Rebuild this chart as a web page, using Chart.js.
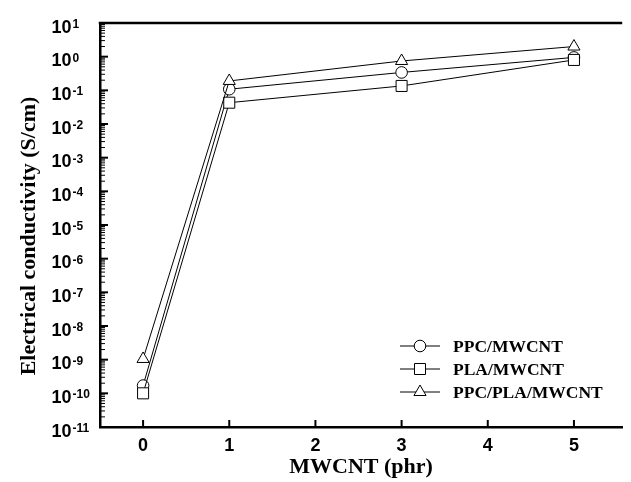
<!DOCTYPE html>
<html>
<head>
<meta charset="utf-8">
<script src="https://cdn.jsdelivr.net/npm/chart.js@4.4.1/dist/chart.umd.min.js"></script>
<style>
    html, body { margin: 0; padding: 0; background: #fff; }
    canvas { display: block; }
</style>
</head>
<body>
<canvas id="conductivityChart" width="631" height="482"></canvas>
<script>
// MWCNT loading (phr) and conductivity values (S/cm)
const mwcntLoading = [0, 1, 3, 5];
const ppcMwcnt = [1.7e-10, 0.108, 0.34, 0.95];
const plaMwcnt = [1.0e-10, 0.043, 0.135, 0.8];
const ppcPlaMwcnt = [1.05e-9, 0.19, 0.745, 2.0];
const seriesLabels = ['PPC/MWCNT', 'PLA/MWCNT', 'PPC/PLA/MWCNT'];
const xTickValues = [0, 1, 2, 3, 4, 5];
const yDecades = [-11, -10, -9, -8, -7, -6, -5, -4, -3, -2, -1, 0, 1];
const xTitle = 'MWCNT (phr)';
const yTitle = 'Electrical conductivity (S/cm)';

const sansFamily = '"Liberation Sans", Arial, sans-serif';
const serifFamily = '"Liberation Serif", "Times New Roman", serif';

// log ticks: every k * 10^n between the decades
const yTickValues = [];
yDecades.forEach(function(e) {
    for (let k = 1; k <= 9; k++) {
        if (e === yDecades[yDecades.length - 1] && k > 1) break;
        yTickValues.push(k * Math.pow(10, e));
    }
});

function drawMarker(ctx, style, r, x, y) {
    ctx.beginPath();
    if (style === 'circle') {
        ctx.arc(x, y, r, 0, Math.PI * 2);
    } else if (style === 'rect') {
        const s = r * Math.SQRT1_2;
        ctx.rect(x - s, y - s, 2 * s, 2 * s);
    } else {
        ctx.moveTo(x, y - r);
        ctx.lineTo(x + r * Math.sin(Math.PI / 3), y + r / 2);
        ctx.lineTo(x - r * Math.sin(Math.PI / 3), y + r / 2);
        ctx.closePath();
    }
    ctx.fillStyle = '#fff';
    ctx.fill();
    ctx.lineWidth = 1;
    ctx.strokeStyle = '#000';
    ctx.stroke();
}

// inward ticks, top frame line, superscript labels, titles and legend
const paperFrame = {
    id: 'paperFrame',
    afterDraw(chart) {
        const ctx = chart.ctx;
        const area = chart.chartArea;
        const xScale = chart.scales.x;
        const yScale = chart.scales.y;
        ctx.save();
        ctx.strokeStyle = '#000';
        ctx.fillStyle = '#000';

        ctx.lineWidth = 2.5;
        ctx.beginPath();
        ctx.moveTo(area.left - 1.25, area.top);
        ctx.lineTo(area.right, area.top);
        ctx.stroke();

        yScale.ticks.forEach(function(t) {
            const major = Math.abs(Math.log10(t.value) - Math.round(Math.log10(t.value))) < 1e-6;
            const y = yScale.getPixelForValue(t.value);
            ctx.lineWidth = major ? 2 : 1;
            ctx.beginPath();
            ctx.moveTo(area.left, y);
            ctx.lineTo(area.left + (major ? 8 : 5), y);
            ctx.stroke();
        });

        xScale.ticks.forEach(function(t) {
            const x = xScale.getPixelForValue(t.value);
            ctx.lineWidth = 2;
            ctx.beginPath();
            ctx.moveTo(x, area.bottom);
            ctx.lineTo(x, area.bottom - 7);
            ctx.stroke();
        });

        // y labels as 10 with a raised exponent
        ctx.textAlign = 'left';
        ctx.textBaseline = 'alphabetic';
        yDecades.forEach(function(e) {
            const y = yScale.getPixelForValue(Math.pow(10, e));
            ctx.font = 'bold 18px ' + sansFamily;
            ctx.fillText('10', 51.5, y + 9.5);
            const w = ctx.measureText('10').width;
            ctx.font = 'bold 12px ' + sansFamily;
            ctx.fillText(String(e), 51.5 + w + 1, y + 5);
        });

        // axis titles
        ctx.font = 'bold 22px ' + serifFamily;
        ctx.textAlign = 'center';
        ctx.fillText(xTitle, (area.left + area.right) / 2, 473);
        ctx.save();
        ctx.translate(34.5, 236);
        ctx.rotate(-Math.PI / 2);
        ctx.fillText(yTitle, 0, 0);
        ctx.restore();

        // legend in the lower right of the plot
        const rows = [346, 369, 392];
        chart.data.datasets.forEach(function(ds, i) {
            const y = rows[i];
            ctx.lineWidth = 1;
            ctx.strokeStyle = '#000';
            ctx.beginPath();
            ctx.moveTo(400, y);
            ctx.lineTo(440, y);
            ctx.stroke();
            drawMarker(ctx, ds.pointStyle, ds.pointRadius, 420, y);
            ctx.fillStyle = '#000';
            ctx.font = 'bold 17.5px ' + serifFamily;
            ctx.textAlign = 'left';
            ctx.fillText(ds.label, 453, y + 5.8);
        });
        ctx.restore();
    }
};

function makeSeries(label, values, style, radius, order) {
    return {
        label: label,
        data: mwcntLoading.map(function(x, i) { return { x: x, y: values[i] }; }),
        borderColor: '#000',
        borderWidth: 1,
        backgroundColor: '#fff',
        pointStyle: style,
        pointRadius: radius,
        pointHoverRadius: radius,
        pointBackgroundColor: '#fff',
        pointBorderColor: '#000',
        pointBorderWidth: 1,
        tension: 0,
        order: order
    };
}

const chart = new Chart(document.getElementById('conductivityChart').getContext('2d'), {
    type: 'line',
    data: {
        datasets: [
            makeSeries(seriesLabels[0], ppcMwcnt, 'circle', 5.8, 2),
            makeSeries(seriesLabels[1], plaMwcnt, 'rect', 7.8, 1),
            makeSeries(seriesLabels[2], ppcPlaMwcnt, 'triangle', 7, 0)
        ]
    },
    options: {
        responsive: false,
        animation: false,
        devicePixelRatio: 1,
        layout: { padding: { top: 23, right: 0, bottom: 0, left: 0 } },
        plugins: {
            legend: { display: false },
            tooltip: { enabled: false }
        },
        scales: {
            x: {
                type: 'linear',
                min: -0.5,
                max: 5.56,
                grid: { display: false, drawTicks: false },
                border: { display: true, color: '#000', width: 2.5 },
                ticks: {
                    color: '#000',
                    font: { family: sansFamily, size: 18, weight: 'bold' },
                    padding: 8
                },
                afterBuildTicks: function(scale) {
                    scale.ticks = xTickValues.map(function(v) { return { value: v }; });
                },
                afterFit: function(scale) { scale.height = 55; }
            },
            y: {
                type: 'logarithmic',
                min: 1e-11,
                max: 10,
                grid: { display: false, drawTicks: false },
                border: { display: true, color: '#000', width: 2.5 },
                ticks: { display: false },
                afterBuildTicks: function(scale) {
                    scale.ticks = yTickValues.map(function(v) { return { value: v }; });
                },
                afterFit: function(scale) { scale.width = 100; }
            }
        }
    },
    plugins: [paperFrame]
});
</script>
</body>
</html>
